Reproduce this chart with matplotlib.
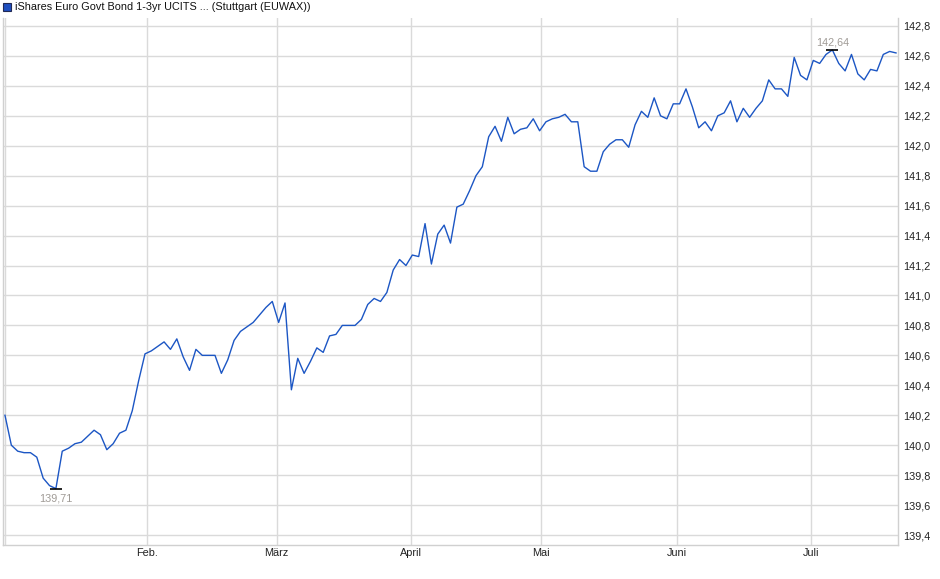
import numpy as np
import matplotlib
matplotlib.use("Agg")
import matplotlib.pyplot as plt
from matplotlib.patches import Rectangle
from matplotlib.ticker import FuncFormatter, FixedLocator

plt.rcParams['font.family'] = ['Liberation Sans', 'DejaVu Sans']

title = "iShares Euro Govt Bond 1-3yr UCITS ... (Stuttgart (EUWAX))"

# Schlusskurse je Handelstag
prices = [
    140.20, 140.00, 139.96, 139.95, 139.95, 139.92, 139.78, 139.73, 139.71, 139.96,
    139.98, 140.01, 140.02, 140.06, 140.10, 140.07, 139.97, 140.01, 140.08, 140.10,
    140.23, 140.43, 140.61, 140.63, 140.66, 140.69, 140.64, 140.71, 140.59, 140.50,
    140.64, 140.60, 140.60, 140.60, 140.48, 140.57, 140.70, 140.76, 140.79, 140.82,
    140.87, 140.92, 140.96, 140.82, 140.95, 140.37, 140.58, 140.48, 140.56, 140.65,
    140.62, 140.73, 140.74, 140.80, 140.80, 140.80, 140.84, 140.94, 140.98, 140.96,
    141.02, 141.17, 141.24, 141.20, 141.27, 141.26, 141.48, 141.21, 141.41, 141.47,
    141.35, 141.59, 141.61, 141.70, 141.80, 141.86, 142.06, 142.13, 142.03, 142.19,
    142.08, 142.11, 142.12, 142.18, 142.10, 142.16, 142.18, 142.19, 142.21, 142.16,
    142.16, 141.86, 141.83, 141.83, 141.96, 142.01, 142.04, 142.04, 141.99, 142.14,
    142.23, 142.19, 142.32, 142.20, 142.18, 142.28, 142.28, 142.38, 142.26, 142.12,
    142.16, 142.10, 142.20, 142.22, 142.30, 142.16, 142.25, 142.19, 142.25, 142.30,
    142.44, 142.38, 142.38, 142.33, 142.59, 142.47, 142.44, 142.57, 142.55, 142.61,
    142.64, 142.55, 142.50, 142.61, 142.48, 142.44, 142.51, 142.50, 142.61, 142.63,
    142.62,
]

# Monatswechsel (Position zwischen den Handelstagen) und Beschriftung
month_idx = [0, 22.3, 42.7, 63.8, 84.2, 105.6, 126.6]
month_labels = ["", "Feb.", "März", "April", "Mai", "Juni", "Juli"]

y_ticks = [139.4, 139.6, 139.8, 140.0, 140.2, 140.4, 140.6, 140.8, 141.0,
           141.2, 141.4, 141.6, 141.8, 142.0, 142.2, 142.4, 142.6, 142.8]

line_col = "#1c56c4"
grid_col = "#dadada"
fs = 7.8

fig = plt.figure(figsize=(9.4, 5.79), dpi=100)
ax = fig.add_axes([3/940, 34/579, 895/940, 527/579])

x = np.arange(len(prices))
y = np.array(prices)
ax.plot(x, y, color=line_col, lw=1.0, zorder=3)

ax.set_xlim(-0.31, len(prices) - 1 + 0.31)
ax.set_ylim(139.4 - 10/150, 142.8 + 8/150)

ax.xaxis.set_major_locator(FixedLocator(month_idx))
ax.set_xticklabels(month_labels)
ax.yaxis.set_major_locator(FixedLocator(y_ticks))
ax.yaxis.set_major_formatter(FuncFormatter(lambda v, p: f"{v:.1f}".replace(".", ",")))
ax.yaxis.tick_right()
ax.tick_params(axis="both", length=0, labelsize=fs, colors="#222222")
ax.tick_params(axis="y", pad=3.5)
ax.tick_params(axis="x", pad=2.5)

ax.grid(True, color=grid_col, lw=1.0, zorder=0)
for side in ["left", "right", "bottom"]:
    ax.spines[side].set_color("#d0d0d0")
    ax.spines[side].set_linewidth(1.0)
ax.spines["top"].set_visible(False)

# Minimum / Maximum
i_min, i_max = int(np.argmin(y)), int(np.argmax(y))
ann_col = "#a09b96"
for i, off, va in [(i_min, -3.5, "top"), (i_max, 1.5, "bottom")]:
    ax.plot(i, y[i], marker="_", markersize=9, mew=1.2, color="black", zorder=4)
    ax.annotate(f"{y[i]:.2f}".replace(".", ","), (i, y[i]), xytext=(0, off),
                textcoords="offset points", ha="center", va=va,
                fontsize=fs, color=ann_col)

# Kopfzeile mit Legendenquadrat
fig.patches.append(Rectangle((3/940, 1 - 11/579), 8/940, 8/579, transform=fig.transFigure,
                             facecolor="#1f4fbf", edgecolor="#222a55", lw=0.8))
fig.text(15/940, 1 - 7/579, title, fontsize=fs, va="center", ha="left", color="#111111")

fig.savefig("out.png", dpi=100)
